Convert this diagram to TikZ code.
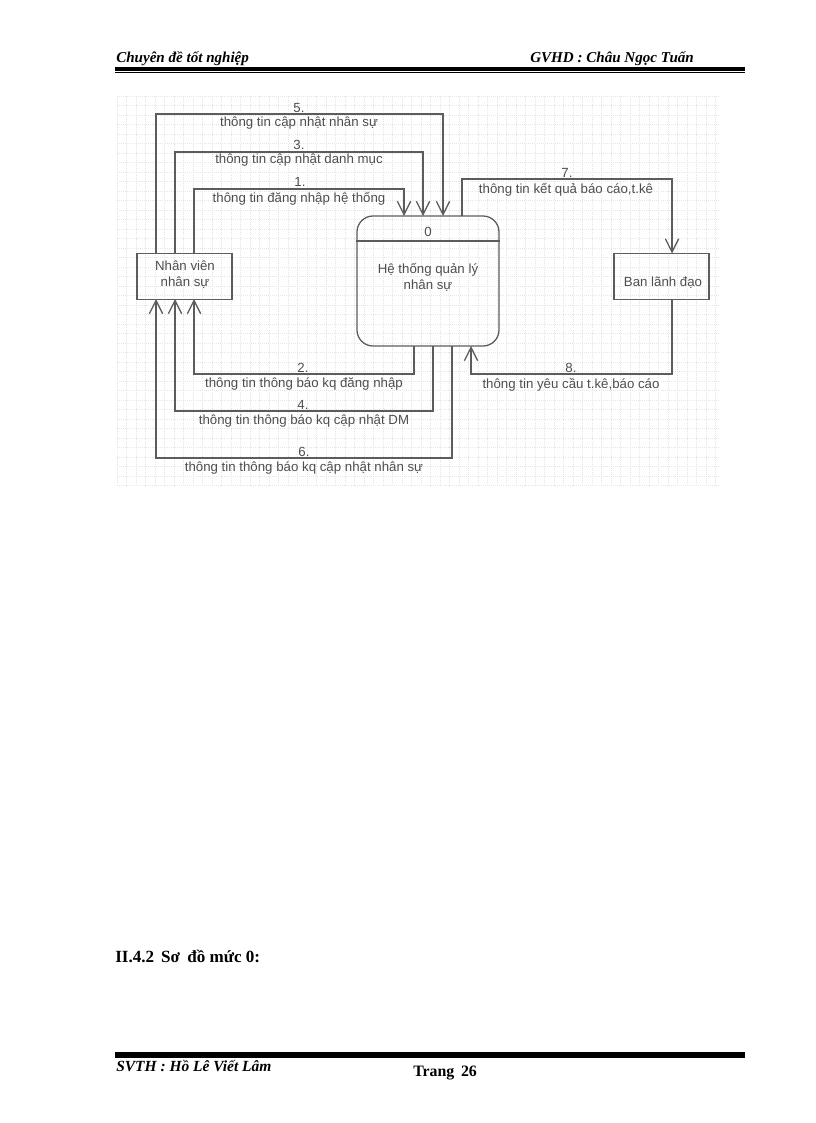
\documentclass[tikz,border=0pt]{standalone}
\usepackage{fontspec}
\setmainfont{Liberation Serif}
\setsansfont{Liberation Sans}
\usetikzlibrary{arrows.meta}
\definecolor{ink}{gray}{0.36}
\definecolor{gridA}{RGB}{226,232,226}
\definecolor{gridB}{RGB}{236,222,236}
\tikzset{
  x=0.75pt,y=-0.75pt,
  pagetext/.style={font=\fontsize{11.3}{13}\selectfont\bfseries\itshape,inner sep=0pt,text=black},
  flowlabel/.style={font=\sffamily\fontsize{9.95}{12}\selectfont,inner sep=0pt,text=ink!85!black,align=center,yshift=-1pt},
  flowbox/.style={draw=ink,line width=0.95pt,fill=none},
  flow/.style={draw=ink,line width=0.95pt,-{Straight Barb[length=10pt,width=10pt,line width=0.95pt]}},
  plainflow/.style={draw=ink,line width=0.95pt},
}
\begin{document}
\begin{tikzpicture}
\useasboundingbox (0,0) rectangle (816,1123);
% grid panel
\foreach \v in {96,105.5,...,486}{\draw[gridA,line width=0.55pt,densely dotted] (117,\v) -- (720,\v);}
\foreach \v in {117,126.5,...,720}{\draw[gridB,line width=0.55pt,densely dotted] (\v,96) -- (\v,486);}
% page header
\node[pagetext,anchor=base west] (hl) at (116,63) {Chuyên đề tốt nghiệp};
\node[pagetext,anchor=base west] (hr) at (530,63) {GVHD : Châu Ngọc Tuấn};
\fill (115,67.3) rectangle (745,71.5);
\fill (115,72.2) rectangle (745,73);
% entities
\node[flowbox,minimum width=71.25pt,minimum height=34.5pt,inner sep=0pt] (nv) at (184.5,276.5) {};
\node[flowlabel] (nvt) at (185,273.5) {Nhân viên\\nhân sự};
\node[flowbox,minimum width=71.25pt,minimum height=34.5pt,inner sep=0pt] (bl) at (661.5,276.5) {};
\node[flowlabel] (blt) at (663,281) {Ban lãnh đạo};
\node[flowbox,rounded corners=12pt,minimum width=106.5pt,minimum height=97.5pt,inner sep=0pt] (ht) at (428,281) {};
\draw[plainflow] (ht.west |- 0,241) coordinate (hl0) -- (ht.east |- 0,241) coordinate (hl1);
\node[flowlabel] (ht0) at (428,231) {0};
\node[flowlabel] (htt) at (428,276) {Hệ thống quản lý\\nhân sự};
% connector anchors
\foreach \n/\x in {a/156,b/175,c/194}{\coordinate (nvt\n) at (\x,254); \coordinate (nvb\n) at (\x,299);}
\foreach \n/\x in {a/404,b/423,c/443,g/462}{\coordinate (htt\n) at (\x,216);}
\foreach \n/\x in {d/414,e/433,f/452,h/471}{\coordinate (htb\n) at (\x,346);}
\coordinate (blt0) at (672,253.5);
\coordinate (blb0) at (672,299);
% flows
\draw[flow] (nvtc) |- (194,189) -| (htta);
\draw[flow] (nvtb) |- (175,152) -| (httb);
\draw[flow] (nvta) |- (156,114) -| (httc);
\draw[flow] (httg) |- (462,179) -| (blt0);
\draw[flow] (htbd) |- (414,374) -| (nvbc);
\draw[flow] (htbe) |- (433,411) -| (nvbb);
\draw[flow] (htbf) |- (452,458) -| (nvba);
\draw[flow] (blb0) |- (672,374) -| (htbh);
% labels
\node[flowlabel] (l5a) at (299,107) {5.};
\node[flowlabel] (l5b) at (299,122) {thông tin cập nhật nhân sự};
\node[flowlabel] (l3a) at (299,144) {3.};
\node[flowlabel] (l3b) at (299,159) {thông tin cập nhật danh mục};
\node[flowlabel] (l1a) at (300,181) {1.};
\node[flowlabel] (l1b) at (299,197) {thông tin đăng nhập hệ thống};
\node[flowlabel] (l7a) at (567,172) {7.};
\node[flowlabel] (l7b) at (566,188) {thông tin kết quả báo cáo,t.kê};
\node[flowlabel] (l2a) at (303,367) {2.};
\node[flowlabel] (l2b) at (304,383) {thông tin thông báo kq đăng nhập};
\node[flowlabel] (l4a) at (303,404) {4.};
\node[flowlabel] (l4b) at (304,420) {thông tin thông báo kq cập nhật DM};
\node[flowlabel] (l6a) at (304,451) {6.};
\node[flowlabel] (l6b) at (304,467) {thông tin thông báo kq cập nhật nhân sự};
\node[flowlabel] (l8a) at (571,367) {8.};
\node[flowlabel] (l8b) at (571,383) {thông tin yêu cầu t.kê,báo cáo};
% page footer
\node[font=\fontsize{12.8}{14}\selectfont\bfseries,inner sep=0pt,anchor=base west] (sec) at (115,962) {II.4.2\, Sơ\, đồ mức 0:};
\fill (115,1052) rectangle (745,1056.5);
\fill (115,1057.4) rectangle (745,1058.2);
\node[pagetext,font=\fontsize{11.6}{13}\selectfont\bfseries\itshape,anchor=base west] (sv) at (116,1071) {SVTH : Hồ Lê Viết Lâm};
\node[font=\fontsize{11.9}{13}\selectfont\bfseries,inner sep=0pt,anchor=base west] (tr) at (413,1076) {Trang\, 26};
\end{tikzpicture}
\end{document}
